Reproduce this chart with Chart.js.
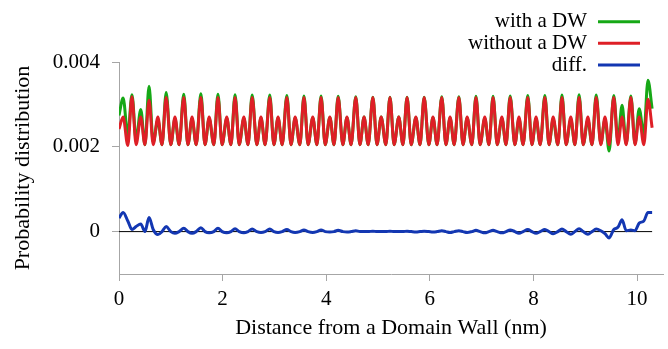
<!DOCTYPE html>
<html><head><meta charset="utf-8">
<script src="https://cdn.jsdelivr.net/npm/chart.js@4/dist/chart.umd.min.js"></script>
<style>html,body{margin:0;padding:0;background:#fff;overflow:hidden}canvas{display:block}</style>
</head><body>
<canvas id="c" width="668" height="349"></canvas>
<script>
// Distance from the domain wall (nm)
const xs = [
 0.00, 0.08, 0.17, 0.25,
 0.33, 0.42, 0.50, 0.58,
 0.66, 0.75, 0.83, 0.91,
 1.00, 1.08, 1.16, 1.25,
 1.33, 1.41, 1.49, 1.58,
 1.66, 1.74, 1.83, 1.91,
 1.99, 2.08, 2.16, 2.24,
 2.32, 2.41, 2.49, 2.57,
 2.66, 2.74, 2.82, 2.91,
 2.99, 3.07, 3.15, 3.24,
 3.32, 3.40, 3.49, 3.57,
 3.65, 3.74, 3.82, 3.90,
 3.98, 4.07, 4.15, 4.23,
 4.32, 4.40, 4.48, 4.57,
 4.65, 4.73, 4.81, 4.90,
 4.98, 5.06, 5.15, 5.23,
 5.31, 5.40, 5.48, 5.56,
 5.64, 5.73, 5.81, 5.89,
 5.98, 6.06, 6.14, 6.23,
 6.31, 6.39, 6.47, 6.56,
 6.64, 6.72, 6.81, 6.89,
 6.97, 7.06, 7.14, 7.22,
 7.30, 7.39, 7.47, 7.55,
 7.64, 7.72, 7.80, 7.89,
 7.97, 8.05, 8.13, 8.22,
 8.30, 8.38, 8.47, 8.55,
 8.63, 8.72, 8.80, 8.88,
 8.96, 9.05, 9.13, 9.21,
 9.30, 9.38, 9.46, 9.55,
 9.63, 9.71, 9.79, 9.88,
 9.96, 10.04, 10.13, 10.21,
 10.29
];

const withDW = [
 0.00274, 0.00315, 0.00228, 0.00323,
 0.00217, 0.00288, 0.00205, 0.00343,
 0.00210, 0.00263, 0.00205, 0.00328,
 0.00205, 0.00266, 0.00205, 0.00324,
 0.00205, 0.00266, 0.00205, 0.00325,
 0.00205, 0.00267, 0.00205, 0.00324,
 0.00205, 0.00267, 0.00205, 0.00323,
 0.00205, 0.00267, 0.00205, 0.00322,
 0.00205, 0.00268, 0.00205, 0.00322,
 0.00205, 0.00268, 0.00205, 0.00321,
 0.00205, 0.00268, 0.00205, 0.00320,
 0.00205, 0.00268, 0.00205, 0.00320,
 0.00205, 0.00269, 0.00205, 0.00319,
 0.00205, 0.00269, 0.00205, 0.00318,
 0.00205, 0.00270, 0.00205, 0.00317,
 0.00205, 0.00270, 0.00205, 0.00317,
 0.00205, 0.00270, 0.00205, 0.00317,
 0.00205, 0.00269, 0.00205, 0.00317,
 0.00205, 0.00269, 0.00205, 0.00318,
 0.00205, 0.00268, 0.00205, 0.00318,
 0.00205, 0.00268, 0.00205, 0.00319,
 0.00205, 0.00267, 0.00205, 0.00319,
 0.00205, 0.00267, 0.00205, 0.00320,
 0.00205, 0.00266, 0.00205, 0.00321,
 0.00205, 0.00266, 0.00205, 0.00321,
 0.00205, 0.00265, 0.00205, 0.00322,
 0.00205, 0.00264, 0.00205, 0.00323,
 0.00205, 0.00264, 0.00205, 0.00322,
 0.00207, 0.00265, 0.00190, 0.00321,
 0.00215, 0.00298, 0.00207, 0.00320,
 0.00207, 0.00290, 0.00230, 0.00357,
 0.00290
];

const withoutDW = [
 0.00242, 0.00270, 0.00203, 0.00318,
 0.00205, 0.00270, 0.00205, 0.00310,
 0.00205, 0.00270, 0.00205, 0.00316,
 0.00205, 0.00270, 0.00205, 0.00316,
 0.00205, 0.00270, 0.00205, 0.00316,
 0.00205, 0.00270, 0.00205, 0.00316,
 0.00205, 0.00270, 0.00205, 0.00316,
 0.00205, 0.00270, 0.00205, 0.00316,
 0.00205, 0.00270, 0.00205, 0.00316,
 0.00205, 0.00270, 0.00205, 0.00316,
 0.00205, 0.00270, 0.00205, 0.00316,
 0.00205, 0.00270, 0.00205, 0.00316,
 0.00205, 0.00270, 0.00205, 0.00316,
 0.00205, 0.00270, 0.00205, 0.00316,
 0.00205, 0.00270, 0.00205, 0.00316,
 0.00205, 0.00270, 0.00205, 0.00316,
 0.00205, 0.00270, 0.00205, 0.00316,
 0.00205, 0.00270, 0.00205, 0.00316,
 0.00205, 0.00270, 0.00205, 0.00316,
 0.00205, 0.00270, 0.00205, 0.00316,
 0.00205, 0.00270, 0.00205, 0.00316,
 0.00205, 0.00270, 0.00205, 0.00316,
 0.00205, 0.00270, 0.00205, 0.00316,
 0.00205, 0.00270, 0.00205, 0.00316,
 0.00205, 0.00270, 0.00205, 0.00316,
 0.00205, 0.00270, 0.00205, 0.00316,
 0.00205, 0.00270, 0.00205, 0.00316,
 0.00205, 0.00270, 0.00205, 0.00316,
 0.00205, 0.00270, 0.00205, 0.00316,
 0.00205, 0.00270, 0.00205, 0.00316,
 0.00205, 0.00270, 0.00205, 0.00312,
 0.00245
];

const diff = [
 0.00032, 0.00045, 0.00025, 0.00005,
 0.00012, 0.00018, 0.00000, 0.00033,
 0.00005, -0.00007, 0.00000, 0.00012,
 0.00000, -0.00004, 0.00000, 0.00008,
 0.00000, -0.00004, 0.00000, 0.00009,
 0.00000, -0.00003, 0.00000, 0.00008,
 0.00000, -0.00003, 0.00000, 0.00007,
 0.00000, -0.00003, 0.00000, 0.00006,
 0.00000, -0.00002, 0.00000, 0.00006,
 0.00000, -0.00002, 0.00000, 0.00005,
 0.00000, -0.00002, 0.00000, 0.00004,
 0.00000, -0.00002, 0.00000, 0.00004,
 0.00000, -0.00001, 0.00000, 0.00003,
 0.00000, -0.00001, 0.00000, 0.00002,
 0.00000, 0.00000, 0.00000, 0.00001,
 0.00000, 0.00000, 0.00000, 0.00001,
 0.00000, 0.00000, 0.00000, 0.00001,
 0.00000, -0.00001, 0.00000, 0.00001,
 0.00000, -0.00001, 0.00000, 0.00002,
 0.00000, -0.00002, 0.00000, 0.00002,
 0.00000, -0.00002, 0.00000, 0.00003,
 0.00000, -0.00003, 0.00000, 0.00003,
 0.00000, -0.00003, 0.00000, 0.00004,
 0.00000, -0.00004, 0.00000, 0.00005,
 0.00000, -0.00004, 0.00000, 0.00005,
 0.00000, -0.00005, 0.00000, 0.00006,
 0.00000, -0.00006, 0.00000, 0.00007,
 0.00000, -0.00006, 0.00000, 0.00006,
 0.00002, -0.00005, -0.00015, 0.00005,
 0.00010, 0.00028, 0.00002, 0.00004,
 0.00002, 0.00020, 0.00025, 0.00045,
 0.00045
];

const seriesNames = ['with a DW', 'without a DW', 'diff.'];
const seriesColors = ['#16a816', '#de1f26', '#1337b2'];
const xTicks = [0, 2, 4, 6, 8, 10];
const xTickLabels = ['0', '2', '4', '6', '8', '10'];
const yTicks = [0, 0.002, 0.004];
const yTickLabels = ['0', '0.002', '0.004'];
const xTitle = 'Distance from a Domain Wall (nm)';
const yTitle = 'Probability distribution';

const pts = arr => arr.map((v, i) => ({x: xs[i], y: v}));
const labelFor = (ticks, labels, v) => {
  const i = ticks.findIndex(t => Math.abs(t - v) < 1e-9);
  return i >= 0 ? labels[i] : '';
};

const FONT = '"Liberation Serif", "Times New Roman", serif';
Chart.defaults.font.family = FONT;
Chart.defaults.color = '#000';

const legendPlugin = {
  id: 'rightLegend',
  afterDraw(chart) {
    const ctx = chart.ctx;
    ctx.save();
    ctx.font = '21px ' + FONT;
    ctx.textAlign = 'right';
    ctx.textBaseline = 'middle';
    const rows = [21.7, 43.3, 65];
    for (let k = 0; k < 3; k++) {
      ctx.fillStyle = '#000';
      ctx.fillText(seriesNames[k], 587, rows[k]);
      ctx.strokeStyle = seriesColors[k];
      ctx.lineWidth = 3;
      ctx.beginPath();
      ctx.moveTo(598, rows[k]);
      ctx.lineTo(640, rows[k]);
      ctx.stroke();
    }
    ctx.restore();
  }
};

const lineDs = (label, arr, color, order) => ({
  label, data: pts(arr), borderColor: color, backgroundColor: color,
  borderWidth: 3, pointRadius: 0, fill: false,
  cubicInterpolationMode: 'monotone', order
});

new Chart(document.getElementById('c'), {
  type: 'line',
  data: {
    datasets: [
      lineDs(seriesNames[0], withDW, seriesColors[0], 3),
      lineDs(seriesNames[1], withoutDW, seriesColors[1], 2),
      {label: 'zero', data: [{x: xs[0], y: 0}, {x: xs[xs.length - 1], y: 0}],
       borderColor: '#000', borderWidth: 1, pointRadius: 0, fill: false, order: 1},
      lineDs(seriesNames[2], diff, seriesColors[2], 0)
    ]
  },
  options: {
    responsive: false, animation: false, devicePixelRatio: 1,
    layout: {padding: {top: 62, right: 5, left: 0, bottom: 0}},
    plugins: {legend: {display: false}, tooltip: {enabled: false}},
    scales: {
      x: {
        type: 'linear', min: 0, max: 10.5,
        afterBuildTicks: s => { s.ticks = xTicks.map(v => ({value: v})); },
        afterFit: s => { s.height = 75; },
        grid: {display: true, drawOnChartArea: false, drawTicks: true, tickLength: 7, color: '#a6a6a6', tickColor: '#a6a6a6'},
        border: {display: true, color: '#a6a6a6', width: 1},
        ticks: {color: '#000', font: {size: 21}, padding: 6, maxRotation: 0, autoSkip: false,
                callback: v => labelFor(xTicks, xTickLabels, v)},
        title: {display: true, text: xTitle, color: '#000', font: {size: 22, lineHeight: 1}, padding: {top: 0, bottom: 10}}
      },
      y: {
        type: 'linear', min: -0.001, max: 0.004,
        afterBuildTicks: s => { s.ticks = yTicks.map(v => ({value: v})); },
        afterFit: s => { s.width = 119; },
        grid: {display: true, drawOnChartArea: false, drawTicks: true, tickLength: 7, color: '#a6a6a6', tickColor: '#a6a6a6'},
        border: {display: true, color: '#a6a6a6', width: 1},
        ticks: {color: '#000', font: {size: 21}, padding: 12, autoSkip: false,
                callback: v => labelFor(yTicks, yTickLabels, v)},
        title: {display: true, text: yTitle, color: '#000', font: {size: 22, lineHeight: 1}, padding: {top: 12, bottom: 0}}
      }
    }
  },
  plugins: [legendPlugin]
});
</script>
</body></html>
